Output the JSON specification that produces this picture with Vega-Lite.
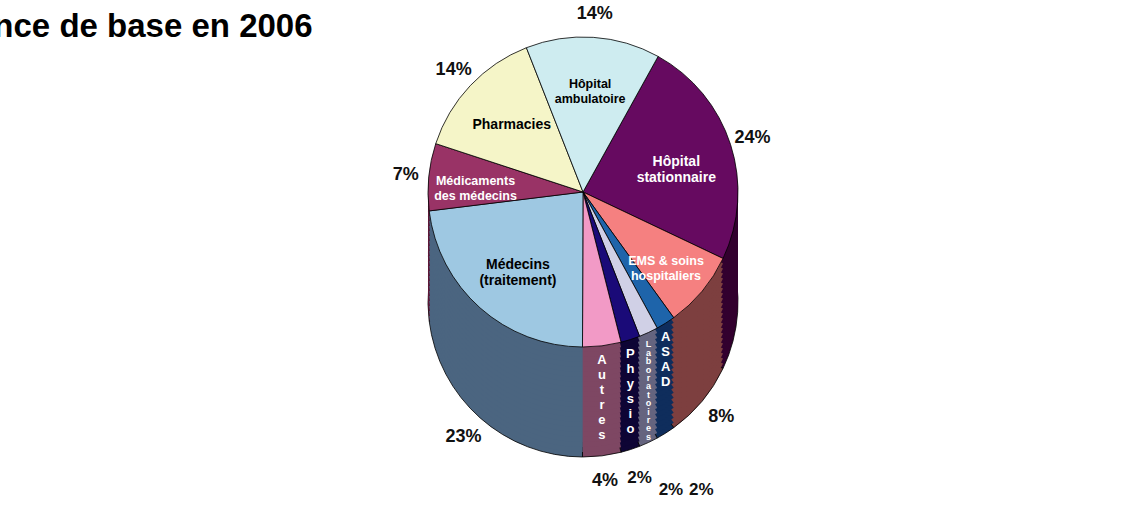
{
  "$schema": "https://vega.github.io/schema/vega-lite/v6.json",
  "width": 1112,
  "height": 290,
  "autosize": "none",
  "padding": {"left": 27, "top": 47, "right": 0, "bottom": 170},
  "background": "white",
  "config": {"view": {"stroke": null}},
  "title": {"text": "ance de base en 2006", "anchor": "start", "frame": "group", "font": "Liberation Sans", "fontSize": 33, "fontWeight": "bold", "color": "#000000", "dx": -52, "dy": 42, "offset": 3},
  "data": {"values": [
    {"poste": "Hôpital stationnaire", "part": 0.24, "ordre": 1},
    {"poste": "EMS & soins hospitaliers", "part": 0.08, "ordre": 2},
    {"poste": "ASAD", "part": 0.02, "ordre": 3},
    {"poste": "Laboratoires", "part": 0.02, "ordre": 4},
    {"poste": "Physio", "part": 0.02, "ordre": 5},
    {"poste": "Autres", "part": 0.04, "ordre": 6},
    {"poste": "Médecins (traitement)", "part": 0.23, "ordre": 7},
    {"poste": "Médicaments des médecins", "part": 0.07, "ordre": 8},
    {"poste": "Pharmacies", "part": 0.14, "ordre": 9},
    {"poste": "Hôpital ambulatoire", "part": 0.14, "ordre": 10}
  ]},
  "encoding": {
    "theta": {"field": "part", "type": "quantitative", "stack": true, "scale": {"range": [0.506, 6.789]}},
    "order": {"field": "ordre", "type": "quantitative"}
  },
  "layer": [
    {"mark": {"type": "arc", "radius": 155, "yOffset": 110, "stroke": "#000000", "strokeWidth": 0.8}, "encoding": {"fill": {"field": "poste", "type": "nominal", "legend": null, "scale": {"domain": ["Hôpital stationnaire","EMS & soins hospitaliers","ASAD","Laboratoires","Physio","Autres","Médecins (traitement)","Médicaments des médecins","Pharmacies","Hôpital ambulatoire"], "range": ["#33002f","#7d3f3f","#0f2d5c","#65647f","#0e0535","#7e4763","#4b6580","#5c1838","#8c8c6e","#6e8a8e"]}}}},
    {"mark": {"type": "arc", "radius": 155, "yOffset": 105}, "encoding": {"fill": {"field": "poste", "type": "nominal", "legend": null}}},
    {"mark": {"type": "arc", "radius": 155, "yOffset": 100}, "encoding": {"fill": {"field": "poste", "type": "nominal", "legend": null}}},
    {"mark": {"type": "arc", "radius": 155, "yOffset": 95}, "encoding": {"fill": {"field": "poste", "type": "nominal", "legend": null}}},
    {"mark": {"type": "arc", "radius": 155, "yOffset": 90}, "encoding": {"fill": {"field": "poste", "type": "nominal", "legend": null}}},
    {"mark": {"type": "arc", "radius": 155, "yOffset": 85}, "encoding": {"fill": {"field": "poste", "type": "nominal", "legend": null}}},
    {"mark": {"type": "arc", "radius": 155, "yOffset": 80}, "encoding": {"fill": {"field": "poste", "type": "nominal", "legend": null}}},
    {"mark": {"type": "arc", "radius": 155, "yOffset": 75}, "encoding": {"fill": {"field": "poste", "type": "nominal", "legend": null}}},
    {"mark": {"type": "arc", "radius": 155, "yOffset": 70}, "encoding": {"fill": {"field": "poste", "type": "nominal", "legend": null}}},
    {"mark": {"type": "arc", "radius": 155, "yOffset": 65}, "encoding": {"fill": {"field": "poste", "type": "nominal", "legend": null}}},
    {"mark": {"type": "arc", "radius": 155, "yOffset": 60}, "encoding": {"fill": {"field": "poste", "type": "nominal", "legend": null}}},
    {"mark": {"type": "arc", "radius": 155, "yOffset": 55}, "encoding": {"fill": {"field": "poste", "type": "nominal", "legend": null}}},
    {"mark": {"type": "arc", "radius": 155, "yOffset": 50}, "encoding": {"fill": {"field": "poste", "type": "nominal", "legend": null}}},
    {"mark": {"type": "arc", "radius": 155, "yOffset": 45}, "encoding": {"fill": {"field": "poste", "type": "nominal", "legend": null}}},
    {"mark": {"type": "arc", "radius": 155, "yOffset": 40}, "encoding": {"fill": {"field": "poste", "type": "nominal", "legend": null}}},
    {"mark": {"type": "arc", "radius": 155, "yOffset": 35}, "encoding": {"fill": {"field": "poste", "type": "nominal", "legend": null}}},
    {"mark": {"type": "arc", "radius": 155, "yOffset": 30}, "encoding": {"fill": {"field": "poste", "type": "nominal", "legend": null}}},
    {"mark": {"type": "arc", "radius": 155, "yOffset": 25}, "encoding": {"fill": {"field": "poste", "type": "nominal", "legend": null}}},
    {"mark": {"type": "arc", "radius": 155, "yOffset": 20}, "encoding": {"fill": {"field": "poste", "type": "nominal", "legend": null}}},
    {"mark": {"type": "arc", "radius": 155, "yOffset": 15}, "encoding": {"fill": {"field": "poste", "type": "nominal", "legend": null}}},
    {"mark": {"type": "arc", "radius": 155, "yOffset": 10}, "encoding": {"fill": {"field": "poste", "type": "nominal", "legend": null}}},
    {"mark": {"type": "arc", "radius": 155, "yOffset": 5}, "encoding": {"fill": {"field": "poste", "type": "nominal", "legend": null}}},
    {"mark": {"type": "arc", "radius": 155, "stroke": "#000000", "strokeWidth": 0.8}, "encoding": {"color": {"field": "poste", "type": "nominal", "legend": null, "scale": {"domain": ["Hôpital stationnaire","EMS & soins hospitaliers","ASAD","Laboratoires","Physio","Autres","Médecins (traitement)","Médicaments des médecins","Pharmacies","Hôpital ambulatoire"], "range": ["#660a60","#f58080","#1e64aa","#d0d0e6","#1a0a78","#f29ac6","#9ec8e2","#993366","#f5f5c8","#ceecf0"]}}}},
    {"mark": {"type": "text", "radius": 155, "yOffset": 8, "align": "center", "baseline": "top", "font": "Liberation Sans", "fontWeight": "bold", "lineBreak": {"expr": "regexp('(?=.)')"}, "lineHeight": {"expr": "datum.poste === 'Laboratoires' ? 8.4 : 15"}},
     "encoding": {
       "text": {"condition": {"test": "indexof(['Autres','Physio','Laboratoires','ASAD'], datum.poste) >= 0", "field": "poste", "type": "nominal"}, "value": ""},
       "size": {"condition": {"test": "datum.poste === 'Laboratoires'", "value": 9}, "value": 13},
       "color": {"value": "#ffffff"}
     }},
    {"mark": {"type": "text", "radius": 98, "align": "center", "baseline": "middle", "font": "Liberation Sans", "fontWeight": "bold", "fontSize": 14, "lineBreak": {"expr": "regexp(' (?=des |hospitaliers|.traitement|stationnaire|ambulatoire)')"}},
     "encoding": {
       "text": {"condition": {"test": "indexof(['Hôpital stationnaire','Pharmacies','Médecins (traitement)'], datum.poste) >= 0", "field": "poste", "type": "nominal"}, "value": ""},
       "color": {"condition": {"test": "indexof(['Hôpital stationnaire','EMS & soins hospitaliers','Médicaments des médecins'], datum.poste) >= 0", "value": "#ffffff"}, "value": "#000000"}
     }},
    {"mark": {"type": "text", "radius": 108, "align": "center", "baseline": "middle", "font": "Liberation Sans", "fontWeight": "bold", "fontSize": 12.5, "lineBreak": {"expr": "regexp(' (?=des |hospitaliers|.traitement|stationnaire|ambulatoire)')"}},
     "encoding": {
       "text": {"condition": {"test": "indexof(['Hôpital ambulatoire','Médicaments des médecins','EMS & soins hospitaliers'], datum.poste) >= 0", "field": "poste", "type": "nominal"}, "value": ""},
       "color": {"condition": {"test": "indexof(['Hôpital stationnaire','EMS & soins hospitaliers','Médicaments des médecins'], datum.poste) >= 0", "value": "#ffffff"}, "value": "#000000"}
     }},
    {"mark": {"type": "text", "radius": 178, "align": "center", "baseline": "middle", "font": "Liberation Sans", "fontWeight": "bold", "fontSize": 18, "color": "#111111"},
     "encoding": {
       "text": {"condition": {"test": "indexof(['Hôpital stationnaire','Hôpital ambulatoire','Pharmacies','Médicaments des médecins'], datum.poste) >= 0", "field": "part", "type": "quantitative", "format": ".0%"}, "value": ""}
     }},
    {"mark": {"type": "text", "radius": 180, "yOffset": 110, "align": "center", "baseline": "middle", "font": "Liberation Sans", "fontWeight": "bold", "fontSize": 18, "color": "#111111"},
     "encoding": {
       "text": {"condition": {"test": "indexof(['EMS & soins hospitaliers','Autres','Médecins (traitement)'], datum.poste) >= 0", "field": "part", "type": "quantitative", "format": ".0%"}, "value": ""}
     }},
    {"mark": {"type": "text", "radius": 185, "yOffset": 110, "align": "center", "baseline": "middle", "font": "Liberation Sans", "fontWeight": "bold", "fontSize": 17, "color": "#111111"},
     "encoding": {
       "text": {"condition": {"test": "datum.poste === 'Physio'", "field": "part", "type": "quantitative", "format": ".0%"}, "value": ""}
     }},
    {"mark": {"type": "text", "radius": 208, "yOffset": 110, "align": "center", "baseline": "middle", "font": "Liberation Sans", "fontWeight": "bold", "fontSize": 17, "color": "#111111"},
     "encoding": {
       "text": {"condition": {"test": "datum.poste === 'Laboratoires'", "field": "part", "type": "quantitative", "format": ".0%"}, "value": ""}
     }},
    {"mark": {"type": "text", "radius": 222, "yOffset": 110, "align": "center", "baseline": "middle", "font": "Liberation Sans", "fontWeight": "bold", "fontSize": 17, "color": "#111111"},
     "encoding": {
       "text": {"condition": {"test": "datum.poste === 'ASAD'", "field": "part", "type": "quantitative", "format": ".0%"}, "value": ""}
     }}
  ]
}
